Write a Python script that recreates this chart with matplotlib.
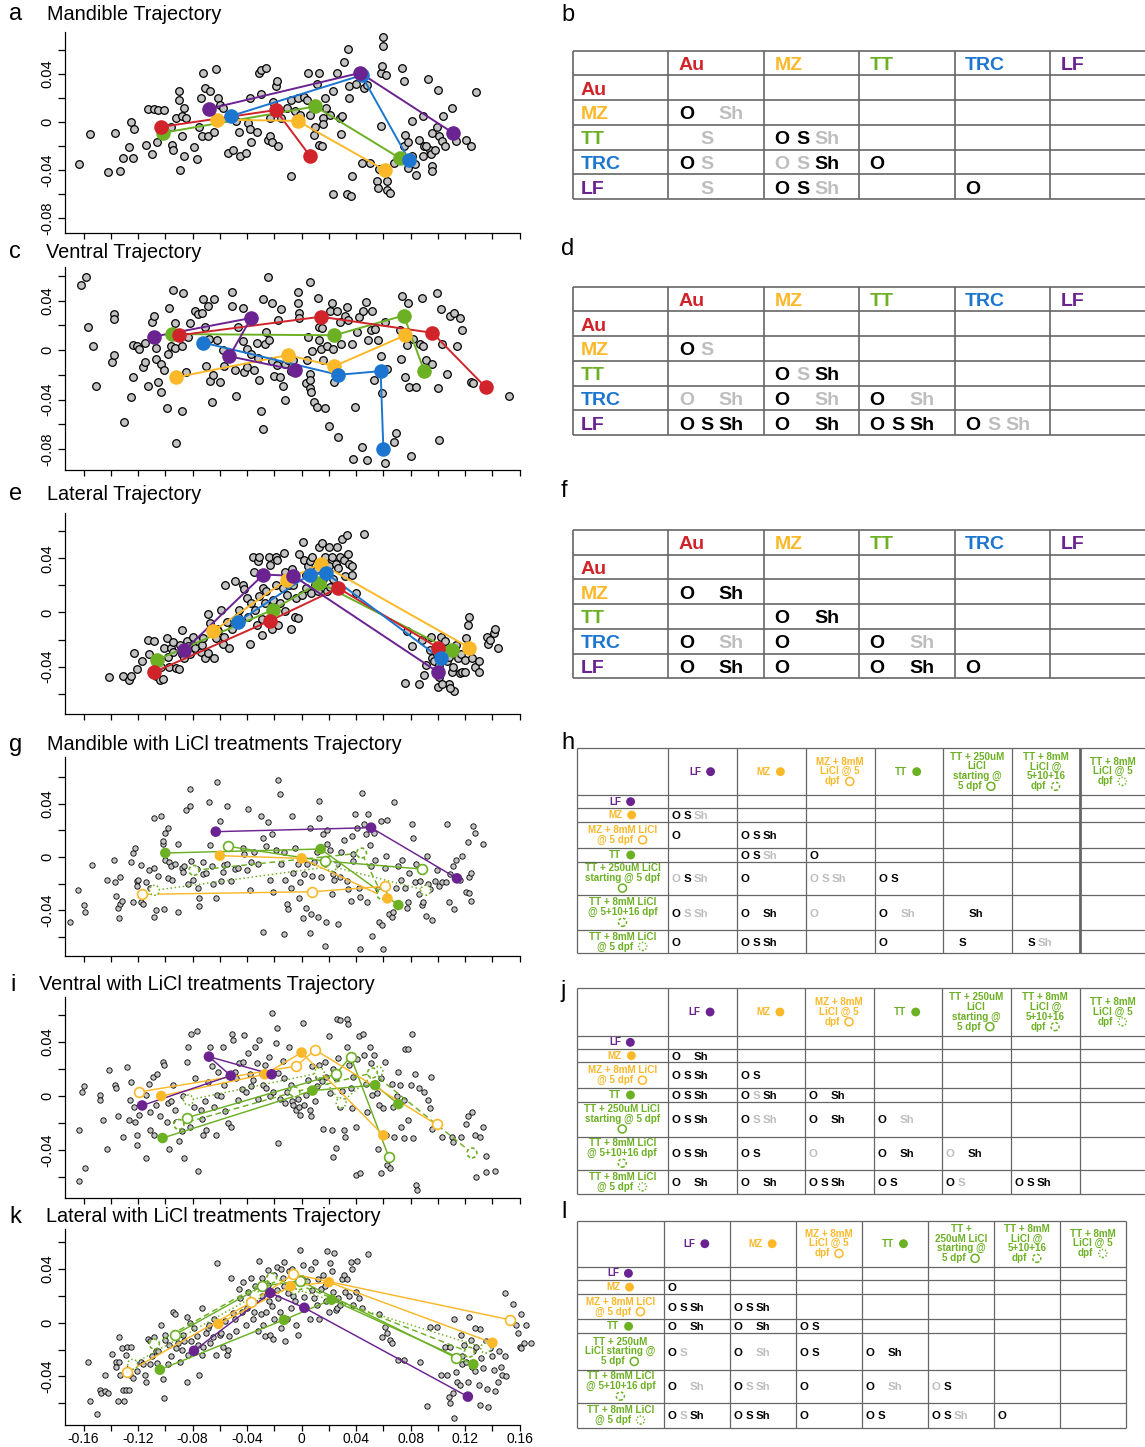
import numpy as np
import matplotlib
matplotlib.use("Agg")
import matplotlib.pyplot as plt
from matplotlib.offsetbox import TextArea, DrawingArea, HPacker, VPacker, AnnotationBbox
from matplotlib.patches import Circle

plt.rcParams['font.family'] = ['Liberation Sans', 'DejaVu Sans']

# ======================= DATA =======================
GROUPS5 = ["Au", "MZ", "TT", "TRC", "LF"]

# ---- a: Mandible trajectory ----
MAND_BG = [
(-0.163,-0.035),(-0.155,-0.010),(-0.142,-0.042),(-0.137,-0.009),(-0.133,-0.041),(-0.131,-0.030),(-0.127,-0.021),(-0.125,0.000),(-0.124,-0.030),(-0.123,-0.006),
(-0.114,-0.019),(-0.113,0.011),(-0.110,-0.027),(-0.108,0.011),(-0.106,-0.017),(-0.105,0.010),(-0.101,0.010),(-0.100,-0.010),(-0.096,-0.004),(-0.095,-0.019),
(-0.094,-0.023),(-0.092,0.003),(-0.090,0.026),(-0.090,0.018),(-0.088,-0.012),(-0.088,0.005),(-0.086,0.012),(-0.086,-0.028),(-0.085,0.003),(-0.089,-0.040),
(-0.079,-0.021),(-0.077,-0.031),(-0.075,-0.004),(-0.074,0.020),(-0.073,-0.012),(-0.072,0.041),(-0.071,0.028),(-0.069,-0.012),(-0.067,0.026),(-0.064,-0.008),
(-0.063,0.044),(-0.061,0.020),(-0.060,0.014),(-0.058,0.012),(-0.054,-0.026),(-0.050,-0.023),(-0.048,0.001),(-0.046,-0.008),(-0.045,-0.028),(-0.041,-0.026),
(-0.039,-0.001),(-0.038,-0.006),(-0.038,0.020),(-0.037,-0.017),(-0.033,-0.008),(-0.031,0.041),(-0.030,0.043),(-0.030,0.023),(-0.026,0.045),(-0.025,-0.015),
(-0.023,-0.012),(-0.023,0.003),(-0.022,-0.017),(-0.021,0.017),(-0.019,0.030),(-0.018,0.034),(-0.017,0.009),(-0.017,-0.020),(-0.015,0.003),(-0.011,0.012),
(-0.008,-0.045),(-0.008,0.018),(-0.005,0.009),(-0.003,0.020),(-0.001,0.006),(0.002,0.021),(0.004,0.018),(0.005,0.041),(0.006,0.006),(0.009,-0.011),
(0.010,-0.004),(0.011,0.032),(0.013,0.041),(0.013,-0.019),(0.015,-0.020),(0.016,0.003),(0.016,-0.002),(0.017,0.020),(0.018,0.012),(0.021,0.006),
(0.023,-0.060),(0.023,0.026),(0.026,0.041),(0.028,0.003),(0.029,-0.010),(0.030,0.005),(0.031,0.050),(0.033,-0.060),(0.034,0.061),(0.035,0.030),
(0.035,0.020),(0.036,-0.062),(0.037,-0.045),(0.040,0.032),(0.044,-0.034),(0.046,0.028),(0.048,0.031),(0.050,-0.034),(0.055,-0.049),(0.056,-0.055),
(0.057,-0.039),(0.058,0.041),(0.058,-0.003),(0.059,0.047),(0.060,0.063),(0.060,0.071),(0.062,0.039),(0.063,-0.057),(0.063,-0.049),(0.065,-0.059),
(0.068,-0.034),(0.074,0.045),(0.075,0.034),(0.075,-0.020),(0.076,-0.011),(0.078,-0.038),(0.081,0.001),(0.083,-0.035),(0.084,-0.044),(0.086,-0.015),
(0.089,0.005),(0.090,-0.020),(0.093,0.036),(0.094,-0.023),(0.095,-0.027),(0.096,-0.009),(0.098,-0.023),(0.096,-0.037),(0.096,-0.041),(0.099,-0.004),
(0.100,0.027),(0.101,-0.012),(0.103,-0.016),(0.104,0.005),(0.105,-0.020),(0.110,0.012),(0.113,-0.016),(0.121,-0.015),(0.124,-0.020),(0.128,0.025),
(0.078,-0.017),(0.081,-0.028),(0.091,-0.020),(0.089,-0.028),
]
MAND_TRAJ = {
    "Au":  [(-0.103, -0.004), (-0.019, 0.010), (0.006, -0.028)],
    "MZ":  [(-0.062, 0.002), (-0.003, 0.001), (0.061, -0.040)],
    "TT":  [(-0.102, -0.009), (0.010, 0.013), (0.072, -0.030)],
    "TRC": [(-0.052, 0.005), (0.044, 0.039), (0.079, -0.032)],
    "LF":  [(-0.068, 0.011), (0.043, 0.041), (0.111, -0.009)],
}

# ---- c: Ventral trajectory ----
VENT_BG = [
(-0.162,0.053),(-0.158,0.059),(-0.157,0.019),(-0.153,0.003),(-0.151,-0.029),(-0.139,-0.010),(-0.138,0.029),(-0.138,0.025),(-0.138,-0.004),(-0.130,-0.058),
(-0.125,-0.038),(-0.124,-0.022),(-0.124,0.004),(-0.121,0.003),(-0.119,0.001),(-0.116,-0.014),(-0.115,-0.010),(-0.115,0.006),(-0.113,-0.029),(-0.110,0.023),
(-0.108,0.028),(-0.107,0.002),(-0.107,-0.007),(-0.105,-0.026),(-0.103,-0.011),(-0.103,-0.034),(-0.101,-0.016),(-0.098,-0.003),(-0.099,-0.047),(-0.097,0.034),
(-0.096,0.003),(-0.094,0.049),(-0.093,0.022),(-0.093,0.002),(-0.092,-0.075),(-0.088,-0.049),(-0.088,0.003),(-0.087,0.046),(-0.085,-0.018),(-0.083,0.011),
(-0.082,0.022),(-0.078,0.032),(-0.076,0.029),(-0.073,0.030),(-0.072,0.041),(-0.071,0.019),(-0.070,-0.013),(-0.069,0.036),(-0.068,0.009),(-0.067,-0.025),
(-0.066,-0.042),(-0.065,-0.020),(-0.064,0.041),(-0.062,0.008),(-0.060,-0.026),(-0.058,0.000),(-0.057,-0.013),(-0.051,0.047),(-0.051,0.036),(-0.049,-0.016),
(-0.048,-0.037),(-0.047,0.019),(-0.043,0.007),(-0.043,0.034),(-0.042,-0.018),(-0.040,-0.014),(-0.040,0.001),(-0.037,-0.003),(-0.035,-0.016),(-0.033,0.006),
(-0.032,-0.006),(-0.031,-0.024),(-0.030,-0.049),(-0.028,0.041),(-0.028,-0.064),(-0.027,0.005),(-0.026,0.015),(-0.025,0.059),(-0.024,0.008),(-0.022,0.038),
(-0.022,-0.009),(-0.020,-0.021),(-0.018,-0.012),(-0.017,0.024),(-0.016,-0.022),(-0.015,0.033),(-0.014,-0.029),(-0.012,-0.040),(-0.012,-0.011),(-0.010,-0.008),
(-0.008,-0.017),(-0.006,-0.008),(-0.003,0.047),(-0.003,0.038),(-0.002,0.030),(-0.002,0.026),(0.003,-0.027),(0.004,-0.008),(0.005,0.011),(0.006,-0.019),
(0.006,0.055),(0.006,-0.024),(0.006,-0.031),(0.007,-0.034),(0.008,-0.001),(0.009,-0.042),(0.011,-0.046),(0.012,0.042),(0.013,0.019),(0.013,0.008),
(0.014,0.001),(0.015,0.018),(0.016,-0.008),(0.017,-0.047),(0.019,0.003),(0.020,-0.061),(0.021,0.032),(0.022,0.038),(0.023,0.001),(0.024,-0.026),
(0.026,0.032),(0.027,-0.070),(0.028,0.023),(0.029,0.005),(0.032,0.028),(0.033,0.035),(0.034,0.024),(0.037,0.005),(0.038,-0.088),(0.039,-0.046),
(0.041,0.015),(0.042,0.027),(0.044,-0.078),(0.045,0.032),(0.047,0.039),(0.048,-0.089),(0.049,0.008),(0.051,0.016),(0.052,0.032),(0.053,-0.024),
(0.054,0.017),(0.056,0.008),(0.058,-0.005),(0.059,-0.035),(0.061,-0.091),(0.061,0.023),(0.063,-0.015),(0.068,-0.074),(0.069,-0.067),(0.072,0.016),
(0.073,-0.007),(0.074,0.044),(0.076,-0.022),(0.077,0.004),(0.078,0.038),(0.079,-0.030),(0.080,-0.086),(0.082,0.009),(0.084,-0.030),(0.087,0.005),
(0.088,0.042),(0.089,0.003),(0.091,-0.008),(0.096,-0.011),(0.099,0.046),(0.100,-0.031),(0.101,-0.073),(0.102,0.033),(0.103,0.005),(0.107,-0.019),
(0.109,0.028),(0.112,0.030),(0.114,0.003),(0.116,0.026),(0.118,0.016),(0.124,-0.026),(0.126,-0.027),(0.152,-0.037),
]
VENT_TRAJ = {
    "Au":  [(-0.090, 0.012), (0.014, 0.027), (0.096, 0.014), (0.135, -0.030)],
    "MZ":  [(-0.092, -0.022), (-0.010, -0.004), (0.024, -0.013), (0.076, 0.012)],
    "TT":  [(-0.095, 0.013), (0.024, 0.012), (0.075, 0.028), (0.090, -0.017)],
    "TRC": [(-0.072, 0.006), (0.027, -0.020), (0.058, -0.017), (0.060, -0.080)],
    "LF":  [(-0.108, 0.011), (-0.037, 0.026), (-0.053, -0.005), (-0.005, -0.016)],
}

# ---- e: Lateral trajectory ----
LAT_BG = [
(-0.141,-0.048),(-0.131,-0.047),(-0.127,-0.050),(-0.125,-0.047),(-0.121,-0.042),(-0.117,-0.036),(-0.123,-0.030),(-0.113,-0.020),(-0.112,-0.031),(-0.108,-0.021),
(-0.107,-0.047),(-0.104,-0.050),(-0.102,-0.049),(-0.103,-0.040),(-0.101,-0.026),(-0.099,-0.019),(-0.098,-0.033),(-0.097,-0.040),(-0.096,-0.026),(-0.094,-0.022),
(-0.094,-0.029),(-0.092,-0.041),(-0.090,-0.042),(-0.089,-0.024),(-0.088,-0.013),(-0.088,-0.031),(-0.086,-0.034),(-0.084,-0.021),(-0.083,-0.025),(-0.082,-0.031),
(-0.080,-0.018),(-0.078,-0.026),(-0.076,-0.021),(-0.074,-0.029),(-0.073,-0.024),(-0.072,-0.019),(-0.071,-0.034),(-0.069,-0.030),(-0.069,-0.001),(-0.067,-0.008),
(-0.064,-0.034),(-0.063,-0.019),(-0.062,-0.012),(-0.061,-0.014),(-0.059,0.002),(-0.058,-0.023),(-0.057,-0.018),(-0.056,0.020),(-0.055,-0.007),(-0.053,-0.026),
(-0.051,-0.012),(-0.049,0.023),(-0.048,-0.007),(-0.047,-0.003),(-0.046,0.002),(-0.043,0.020),(-0.042,0.017),(-0.040,0.011),(-0.039,-0.003),(-0.038,-0.023),
(-0.037,0.007),(-0.036,0.041),(-0.035,0.030),(-0.034,0.002),(-0.033,-0.009),(-0.032,0.038),(-0.031,0.012),(-0.031,0.041),(-0.029,-0.005),(-0.029,-0.017),
(-0.028,0.018),(-0.027,0.007),(-0.026,0.016),(-0.024,0.041),(-0.023,0.035),(-0.022,-0.012),(-0.021,0.009),(-0.019,0.020),(-0.019,0.041),(-0.018,0.039),
(-0.017,-0.009),(-0.016,0.007),(-0.014,0.018),(-0.013,0.044),(-0.012,0.030),(-0.012,0.001),(-0.011,0.013),(-0.009,0.020),(-0.008,-0.012),(-0.007,0.032),
(-0.006,0.020),(-0.005,-0.003),(-0.004,0.011),(-0.003,-0.004),(-0.002,0.043),(0.000,0.013),(0.001,0.052),(0.002,0.039),(0.003,0.018),(0.003,0.028),
(0.005,0.034),(0.006,0.038),(0.007,0.014),(0.008,0.041),(0.010,0.020),(0.011,0.032),(0.012,0.016),(0.013,0.048),(0.015,0.051),(0.016,0.025),
(0.017,0.041),(0.018,0.036),(0.019,0.016),(0.020,0.048),(0.020,0.034),(0.021,0.019),(0.022,0.041),(0.023,0.025),(0.025,0.036),(0.026,0.048),
(0.027,0.033),(0.028,0.041),(0.030,0.054),(0.031,0.039),(0.032,0.027),(0.033,0.057),(0.034,0.043),(0.035,0.036),(0.037,0.034),(0.037,0.028),
(0.040,0.014),(0.046,0.058),(0.077,-0.014),(0.081,-0.025),(0.086,-0.053),(0.090,-0.046),(0.076,-0.052),(0.088,-0.020),(0.091,-0.039),(0.094,-0.028),
(0.095,-0.018),(0.096,-0.034),(0.097,-0.036),(0.099,-0.031),(0.101,-0.039),(0.102,-0.018),(0.103,-0.026),(0.105,-0.021),(0.100,-0.055),(0.101,-0.048),
(0.107,-0.036),(0.108,-0.033),(0.110,-0.044),(0.111,-0.040),(0.112,-0.029),(0.113,-0.024),(0.115,-0.034),(0.116,-0.045),(0.117,-0.031),(0.118,-0.044),
(0.120,-0.044),(0.120,-0.035),(0.121,-0.019),(0.122,-0.009),(0.123,-0.003),(0.125,-0.034),(0.127,-0.040),(0.130,-0.036),(0.130,-0.044),(0.136,-0.018),
(0.137,-0.023),(0.138,-0.020),(0.141,-0.015),(0.142,-0.012),(0.144,-0.026),(0.108,-0.053),(0.112,-0.058),(0.103,-0.053),(0.109,-0.056),
]
LAT_TRAJ = {
    "Au":  [(-0.108, -0.044), (-0.023, -0.006), (0.027, 0.018), (0.100, -0.026)],
    "MZ":  [(-0.065, -0.014), (-0.011, 0.024), (0.014, 0.036), (0.123, -0.026)],
    "TT":  [(-0.106, -0.035), (-0.021, 0.002), (0.013, 0.022), (0.110, -0.028)],
    "TRC": [(-0.047, -0.007), (0.006, 0.028), (0.018, 0.029), (0.102, -0.034)],
    "LF":  [(-0.086, -0.028), (-0.028, 0.028), (-0.006, 0.027), (0.100, -0.044)],
}

# ---- g: Mandible with LiCl ----
MANDL_BG = [
(-0.170,-0.049),(-0.164,-0.025),(-0.160,-0.036),(-0.159,-0.041),(-0.154,-0.006),(-0.143,-0.017),(-0.138,-0.002),(-0.137,-0.019),(-0.136,-0.029),(-0.135,-0.038),
(-0.134,-0.046),(-0.133,-0.015),(-0.133,-0.035),(-0.132,-0.033),(-0.125,-0.004),(-0.124,-0.034),(-0.124,0.003),(-0.122,0.007),(-0.121,-0.018),(-0.121,-0.022),
(-0.120,-0.017),(-0.118,-0.006),(-0.118,-0.034),(-0.116,-0.035),(-0.114,-0.019),(-0.112,-0.010),(-0.111,-0.023),(-0.108,-0.008),(-0.108,-0.045),(-0.108,0.029),
(-0.107,-0.040),(-0.105,-0.014),(-0.103,0.031),(-0.102,0.010),(-0.102,0.012),(-0.101,-0.039),(-0.100,-0.002),(-0.100,0.018),(-0.098,0.022),(-0.098,-0.016),
(-0.097,-0.004),(-0.096,-0.007),(-0.095,-0.017),(-0.093,-0.005),(-0.091,0.010),(-0.091,-0.041),(-0.088,-0.008),(-0.087,-0.011),(-0.086,-0.007),(-0.085,0.035),
(-0.083,-0.020),(-0.082,0.051),(-0.082,0.038),(-0.081,-0.003),(-0.080,-0.017),(-0.077,-0.009),(-0.076,-0.023),(-0.075,-0.037),(-0.075,-0.031),(-0.072,-0.004),
(-0.072,-0.013),(-0.070,-0.012),(-0.068,0.041),(-0.067,0.009),(-0.066,-0.007),(-0.065,-0.020),(-0.063,-0.031),(-0.062,0.056),(-0.060,0.027),(-0.059,-0.018),
(-0.058,-0.011),(-0.057,-0.006),(-0.055,0.038),(-0.055,-0.005),(-0.052,-0.018),(-0.049,-0.009),(-0.047,-0.008),(-0.043,0.007),(-0.042,0.002),(-0.040,-0.010),
(-0.039,0.036),(-0.038,-0.025),(-0.037,-0.004),(-0.035,0.004),(-0.032,-0.005),(-0.030,0.031),(-0.028,0.014),(-0.028,-0.056),(-0.026,0.008),(-0.025,0.026),
(-0.023,-0.017),(-0.022,0.017),(-0.021,-0.026),(-0.019,0.005),(-0.017,0.058),(-0.016,0.047),(-0.015,-0.005),(-0.013,0.004),(-0.013,-0.058),(-0.012,-0.017),
(-0.011,-0.035),(-0.010,-0.039),(-0.008,-0.023),(-0.007,0.031),(-0.006,-0.012),(-0.005,0.007),(-0.003,-0.005),(-0.002,-0.031),(-0.001,-0.019),(0.001,-0.046),
(0.002,-0.013),(0.003,-0.038),(0.004,-0.005),(0.006,0.022),(0.006,-0.057),(0.007,-0.043),(0.008,-0.014),(0.009,-0.004),(0.011,0.004),(0.012,-0.045),
(0.013,0.029),(0.013,0.042),(0.014,-0.015),(0.016,0.017),(0.018,-0.049),(0.019,0.020),(0.019,0.010),(0.021,0.005),(0.022,-0.028),(0.023,-0.013),
(0.024,-0.017),(0.026,-0.005),(0.027,-0.050),(0.028,-0.015),(0.029,0.004),(0.031,0.013),(0.033,-0.018),(0.034,-0.024),(0.036,-0.033),(0.037,0.016),
(0.038,-0.003),(0.038,0.002),(0.039,0.032),(0.041,0.022),(0.042,-0.023),(0.043,-0.030),(0.044,0.048),(0.046,0.025),(0.047,0.017),(0.048,-0.034),
(0.049,0.032),(0.050,0.009),(0.051,-0.007),(0.052,-0.059),(0.053,0.018),(0.054,-0.002),(0.056,-0.024),(0.057,-0.049),(0.058,0.027),(0.059,-0.051),
(0.060,-0.069),(0.061,-0.008),(0.062,0.001),(0.063,0.028),(0.064,-0.043),(0.066,-0.045),(0.067,-0.041),(0.068,0.041),(0.069,-0.023),(0.071,-0.007),
(0.073,-0.017),(0.074,-0.002),(0.076,-0.023),(0.077,-0.038),(0.078,-0.034),(0.079,-0.012),(0.081,0.025),(0.082,0.014),(0.083,-0.019),(0.084,-0.005),
(0.086,-0.028),(0.087,-0.018),(0.088,-0.036),(0.089,-0.034),(0.091,-0.044),(0.092,0.001),(0.093,-0.020),(0.094,-0.024),(0.096,-0.047),(0.098,-0.018),
(0.099,-0.010),(0.101,-0.022),(0.103,-0.019),(0.106,-0.019),(0.107,0.025),(0.108,-0.034),(0.109,-0.013),(0.111,-0.007),(0.112,-0.039),(0.113,-0.002),
(0.116,-0.017),(0.118,0.001),(0.121,-0.026),(0.123,-0.015),(0.124,-0.012),(0.124,-0.033),(0.126,0.023),(0.127,0.018),(0.122,0.011),(0.133,0.010),
(0.123,-0.027),(0.043,-0.069),(0.017,-0.067),
]
MANDL_TRAJ = {
    "LF":    [(-0.063, 0.019), (0.051, 0.022), (0.114, -0.016)],
    "MZ":    [(-0.060, 0.001), (0.000, -0.001), (0.063, -0.031)],
    "MZL":   [(-0.117, -0.028), (0.008, -0.026), (0.061, -0.022)],
    "TT":    [(-0.100, 0.003), (0.014, 0.006), (0.071, -0.036)],
    "TT250": [(-0.054, 0.008), (0.017, -0.003), (0.088, -0.009)],
    "TT8a":  [(-0.079, -0.010), (0.044, 0.003), (0.059, -0.028)],
    "TT8b":  [(-0.108, -0.025), (0.022, -0.007), (0.091, -0.025)],
}

# ---- i: Ventral with LiCl ----
VENTL_BG = [
(-0.163,-0.025),(-0.163,-0.063),(-0.161,0.003),(-0.160,0.007),(-0.159,-0.053),(-0.148,0.001),(-0.148,-0.003),(-0.146,-0.018),(-0.143,-0.039),(-0.141,0.019),
(-0.137,0.008),(-0.136,0.006),(-0.135,-0.015),(-0.131,-0.030),(-0.128,0.021),(-0.127,-0.018),(-0.126,-0.003),(-0.125,0.010),(-0.123,-0.008),(-0.122,-0.019),
(-0.121,-0.029),(-0.121,-0.036),(-0.119,-0.014),(-0.114,-0.046),(-0.114,0.001),(-0.112,0.009),(-0.111,-0.012),(-0.111,-0.025),(-0.109,0.014),(-0.108,-0.029),
(-0.107,-0.007),(-0.106,0.016),(-0.104,-0.015),(-0.102,0.025),(-0.101,0.023),(-0.099,-0.019),(-0.098,-0.005),(-0.097,-0.039),(-0.096,-0.004),(-0.094,0.008),
(-0.093,-0.010),(-0.092,-0.019),(-0.090,-0.033),(-0.088,-0.026),(-0.087,0.000),(-0.086,-0.046),(-0.084,0.025),(-0.083,0.036),(-0.082,-0.023),(-0.081,0.046),
(-0.079,-0.008),(-0.078,0.013),(-0.077,0.048),(-0.076,-0.055),(-0.074,-0.010),(-0.073,-0.017),(-0.072,-0.029),(-0.071,-0.004),(-0.070,-0.025),(-0.069,0.010),
(-0.067,0.036),(-0.066,0.022),(-0.064,-0.008),(-0.063,-0.029),(-0.062,0.001),(-0.061,0.018),(-0.059,0.000),(-0.058,0.036),(-0.057,0.008),(-0.056,-0.011),
(-0.054,-0.020),(-0.052,-0.023),(-0.051,0.046),(-0.050,0.041),(-0.049,0.018),(-0.048,0.013),(-0.047,-0.003),(-0.046,0.024),(-0.044,0.005),(-0.043,0.025),
(-0.042,0.045),(-0.041,0.003),(-0.039,0.032),(-0.038,0.016),(-0.037,0.007),(-0.036,0.012),(-0.034,0.036),(-0.033,0.024),(-0.032,-0.002),(-0.031,0.041),
(-0.029,0.016),(-0.028,0.008),(-0.027,0.023),(-0.026,0.006),(-0.024,0.029),(-0.023,0.000),(-0.022,0.061),(-0.021,0.003),(-0.019,0.039),(-0.018,0.050),
(-0.017,0.017),(-0.017,-0.035),(-0.016,-0.002),(-0.014,0.026),(-0.013,0.013),(-0.012,-0.005),(-0.011,0.003),(-0.009,0.036),(-0.008,0.008),(-0.007,-0.004),
(-0.006,-0.007),(-0.004,-0.010),(-0.003,-0.002),(-0.002,-0.008),(-0.001,-0.014),(0.001,0.054),(0.002,-0.007),(0.003,0.001),(0.005,0.012),(0.006,-0.010),
(0.007,-0.015),(0.008,0.022),(0.010,-0.004),(0.011,0.007),(0.012,0.014),(0.013,0.023),(0.015,0.011),(0.016,-0.024),(0.017,0.025),(0.018,0.014),
(0.020,0.044),(0.021,0.002),(0.022,-0.025),(0.023,-0.045),(0.023,0.020),(0.025,-0.038),(0.025,0.013),(0.026,0.057),(0.027,0.028),(0.028,-0.008),
(0.028,0.056),(0.030,0.004),(0.031,-0.025),(0.032,-0.030),(0.033,0.036),(0.033,0.057),(0.034,0.053),(0.035,0.023),(0.036,0.006),(0.037,-0.009),
(0.038,0.014),(0.040,-0.023),(0.040,-0.058),(0.041,0.027),(0.042,0.044),(0.043,-0.057),(0.045,0.046),(0.046,0.030),(0.047,0.009),(0.048,-0.012),
(0.050,0.036),(0.051,0.024),(0.052,0.001),(0.053,0.030),(0.055,0.002),(0.056,-0.039),(0.057,-0.007),(0.058,-0.057),(0.058,0.013),(0.060,-0.009),
(0.061,0.025),(0.062,-0.029),(0.063,-0.051),(0.065,-0.053),(0.066,0.009),(0.067,-0.008),(0.068,-0.030),(0.070,0.000),(0.071,0.018),(0.072,0.008),
(0.073,-0.023),(0.075,-0.003),(0.075,-0.031),(0.076,0.035),(0.078,-0.018),(0.078,0.035),(0.080,0.008),(0.081,0.046),(0.082,-0.031),(0.083,0.016),
(0.084,-0.066),(0.085,-0.069),(0.086,0.006),(0.090,0.003),(0.093,-0.003),(0.094,-0.009),(0.095,0.014),(0.096,-0.024),(0.103,-0.030),(0.110,-0.030),
(0.111,-0.034),(0.117,-0.030),(0.121,-0.021),(0.122,-0.015),(0.125,-0.012),(0.127,-0.029),(0.128,-0.060),(0.131,-0.030),(0.133,-0.023),(0.135,-0.044),
(0.135,-0.056),(0.142,-0.055),
]
VENTL_TRAJ = {
    "LF":    [(-0.117, -0.007), (-0.052, 0.015), (-0.068, 0.029), (-0.022, 0.016)],
    "MZ":    [(-0.103, 0.000), (-0.027, 0.016), (0.000, 0.032), (0.060, -0.029)],
    "MZL":   [(-0.119, 0.003), (-0.004, 0.022), (0.010, 0.034), (0.099, -0.021)],
    "TT":    [(-0.102, -0.031), (0.008, 0.004), (0.054, 0.008), (0.071, -0.006)],
    "TT250": [(-0.084, -0.016), (0.025, 0.016), (0.036, 0.029), (0.064, -0.045)],
    "TT8a":  [(-0.090, -0.021), (-0.005, 0.003), (0.052, 0.017), (0.125, -0.042)],
    "TT8b":  [(-0.083, -0.003), (0.013, 0.017), (0.029, -0.005), (0.056, 0.018)],
}

# ---- k: Lateral with LiCl ----
LATL_BG = [
(-0.157,-0.029),(-0.155,-0.058),(-0.150,-0.068),(-0.148,-0.050),(-0.147,-0.052),(-0.144,-0.051),(-0.142,-0.052),(-0.144,-0.039),(-0.139,-0.023),(-0.136,-0.029),
(-0.136,-0.033),(-0.135,-0.058),(-0.134,-0.011),(-0.134,-0.029),(-0.133,-0.039),(-0.132,-0.019),(-0.131,-0.050),(-0.130,-0.058),(-0.129,-0.050),(-0.129,-0.024),
(-0.128,-0.018),(-0.127,-0.034),(-0.127,-0.050),(-0.126,-0.039),(-0.125,-0.018),(-0.124,-0.041),(-0.122,-0.031),(-0.121,-0.036),(-0.118,-0.029),(-0.116,-0.031),
(-0.115,-0.039),(-0.114,-0.044),(-0.113,-0.012),(-0.111,-0.031),(-0.111,-0.014),(-0.110,-0.025),(-0.108,-0.011),(-0.107,-0.021),(-0.106,-0.030),(-0.105,-0.021),
(-0.103,-0.002),(-0.102,-0.042),(-0.101,-0.056),(-0.100,-0.013),(-0.100,-0.009),(-0.098,-0.031),(-0.097,-0.017),(-0.096,-0.025),(-0.094,0.008),(-0.093,0.006),
(-0.092,-0.019),(-0.091,-0.015),(-0.089,-0.029),(-0.088,-0.020),(-0.087,-0.009),(-0.086,-0.014),(-0.084,-0.044),(-0.084,0.004),(-0.083,-0.024),(-0.082,0.000),
(-0.081,-0.014),(-0.079,-0.004),(-0.077,-0.010),(-0.076,-0.017),(-0.075,-0.039),(-0.073,0.011),(-0.073,-0.024),(-0.072,-0.018),(-0.070,-0.008),(-0.069,-0.004),
(-0.068,-0.002),(-0.067,-0.015),(-0.065,-0.011),(-0.064,0.003),(-0.063,-0.024),(-0.062,0.044),(-0.060,-0.009),(-0.059,-0.008),(-0.058,-0.018),(-0.056,0.001),
(-0.055,-0.024),(-0.054,-0.020),(-0.053,-0.010),(-0.052,0.033),(-0.050,0.007),(-0.049,0.003),(-0.048,-0.006),(-0.046,0.025),(-0.045,0.018),(-0.044,0.008),
(-0.043,0.030),(-0.041,-0.002),(-0.040,0.011),(-0.039,0.023),(-0.037,0.033),(-0.036,0.003),(-0.035,0.017),(-0.035,0.008),(-0.034,0.027),(-0.032,-0.006),
(-0.031,0.046),(-0.030,0.006),(-0.029,0.033),(-0.029,0.020),(-0.028,-0.002),(-0.027,-0.010),(-0.026,0.008),(-0.025,0.028),(-0.025,0.039),(-0.024,0.016),
(-0.023,-0.009),(-0.022,0.012),(-0.021,-0.012),(-0.020,0.035),(-0.020,0.003),(-0.018,0.024),(-0.018,0.041),(-0.017,0.018),(-0.016,0.008),(-0.015,0.040),
(-0.015,-0.004),(-0.014,0.033),(-0.013,0.027),(-0.013,0.045),(-0.012,-0.014),(-0.011,0.003),(-0.010,0.022),(-0.009,0.038),(-0.008,0.011),(-0.007,0.040),
(-0.006,0.020),(-0.005,0.016),(-0.004,-0.002),(-0.003,-0.009),(-0.002,0.027),(-0.001,0.054),(0.000,0.033),(0.001,0.043),(0.002,0.019),(0.003,0.011),
(0.004,0.031),(0.006,0.003),(0.007,0.040),(0.008,0.024),(0.009,0.018),(0.010,0.045),(0.011,0.013),(0.012,0.032),(0.013,0.003),(0.014,0.025),
(0.016,0.035),(0.017,0.027),(0.018,0.016),(0.019,0.053),(0.020,0.008),(0.021,0.044),(0.022,0.038),(0.023,0.023),(0.024,0.052),(0.025,0.009),
(0.026,0.011),(0.027,0.018),(0.028,0.013),(0.030,0.032),(0.031,0.035),(0.032,0.023),(0.033,0.032),(0.035,0.020),(0.036,0.045),(0.037,0.040),
(0.038,0.013),(0.040,0.023),(0.041,0.046),(0.042,0.018),(0.044,0.011),(0.049,0.051),(0.057,0.006),(0.059,-0.011),(0.061,-0.003),(0.063,-0.008),
(0.065,-0.013),(0.066,-0.015),(0.071,-0.028),(0.075,-0.028),(0.087,-0.029),(0.092,-0.062),(0.094,-0.003),(0.099,-0.003),(0.105,-0.018),(0.107,-0.039),
(0.108,-0.055),(0.109,-0.018),(0.111,-0.052),(0.112,0.003),(0.113,-0.037),(0.114,-0.044),(0.116,-0.046),(0.117,-0.009),(0.118,-0.025),(0.118,-0.031),
(0.119,-0.017),(0.121,-0.029),(0.122,-0.044),(0.123,0.004),(0.125,-0.033),(0.126,-0.021),(0.127,-0.036),(0.128,-0.018),(0.130,-0.046),(0.131,-0.005),
(0.132,-0.026),(0.133,-0.034),(0.135,-0.014),(0.136,-0.049),(0.137,-0.063),(0.138,-0.019),(0.140,-0.025),(0.141,-0.035),(0.142,-0.051),(0.144,-0.044),
(0.145,-0.021),(0.146,-0.033),(0.147,-0.039),(0.149,-0.025),(0.150,-0.040),(0.149,0.022),(0.155,0.014),(0.157,-0.002),(0.159,-0.008),(0.160,-0.018),
(0.161,0.006),(0.163,-0.015),(0.165,-0.002),(0.168,-0.015),(0.161,-0.019),(0.112,-0.071),(0.131,-0.061),(0.102,-0.039),(0.109,-0.060),(0.127,-0.004),
(0.124,-0.013),
]
LATL_TRAJ = {
    "LF":    [(-0.079, -0.021), (-0.023, 0.022), (0.002, 0.011), (0.122, -0.055)],
    "MZ":    [(-0.061, -0.001), (-0.008, 0.027), (0.020, 0.030), (0.140, -0.015)],
    "MZL":   [(-0.128, -0.037), (-0.037, 0.015), (-0.006, 0.036), (0.153, 0.002)],
    "TT":    [(-0.104, -0.035), (-0.013, 0.002), (0.022, 0.017), (0.126, -0.031)],
    "TT250": [(-0.093, -0.009), (-0.029, 0.027), (-0.001, 0.031), (0.113, -0.026)],
    "TT8a":  [(-0.108, -0.016), (-0.022, 0.033), (-0.002, 0.028), (0.123, -0.022)],
    "TT8b":  [(-0.124, -0.031), (-0.034, 0.020), (-0.005, 0.025), (0.135, -0.019)],
}

# ---- tables: 3-slot codes for "O", "S", "Sh": k = black, g = grey, - = absent ----
TABLE_B = [[], ["k-g"], ["-g-", "kkg"], ["kg-", "ggk", "k--"], ["-g-", "kkg", "", "k--"]]
TABLE_D = [[], ["kg-"], ["", "kgk"], ["g-g", "k-g", "k-g"], ["kkk", "k-k", "kkk", "kgg"]]
TABLE_F = [[], ["k-k"], ["", "k-k"], ["k-g", "k--", "k-g"], ["k-k", "k--", "k-k", "k--"]]

TABLE_H = [[], ["kkg"], ["k--", "kkk"], ["", "kkg", "k--"], ["gkg", "k--", "ggg", "kk-"],
           ["kgg", "k-k", "g--", "k-g", "--k"], ["k--", "kkk", "", "k--", "-k-", "-kg"]]
TABLE_J = [[], ["k-k"], ["kkk", "kk-"], ["kkk", "kgk", "k-k"], ["kkk", "kgg", "k-k", "k-g"],
           ["kkk", "kk-", "g--", "k-k", "g-k"], ["k-k", "k-k", "kkk", "kk-", "kg-", "kkk"]]
TABLE_L = [[], ["k--"], ["kkk", "kkk"], ["k-k", "k-k", "kk-"], ["kg-", "k-g", "kk-", "k-k"],
           ["k-g", "kgg", "k--", "k-g", "gk-"], ["kgk", "kkk", "k--", "kk-", "kkg", "k--"]]

LICL_COL_HEADERS = [
    (["LF"], "LF", "filled"),
    (["MZ"], "MZ", "filled"),
    (["MZ + 8mM", "LiCl @ 5", "dpf"], "MZ", "open"),
    (["TT"], "TT", "filled"),
    (["TT + 250uM", "LiCl", "starting @", "5 dpf"], "TT", "open"),
    (["TT + 8mM", "LiCl @", "5+10+16", "dpf"], "TT", "dashed"),
    (["TT + 8mM", "LiCl @ 5", "dpf"], "TT", "dotted"),
]
LICL_ROW_HEADERS = [
    (["LF"], "LF", "filled"),
    (["MZ"], "MZ", "filled"),
    (["MZ + 8mM LiCl", "@ 5 dpf"], "MZ", "open"),
    (["TT"], "TT", "filled"),
    (["TT + 250uM LiCl", "starting @ 5 dpf", ""], "TT", "open"),
    (["TT + 8mM LiCl", "@ 5+10+16 dpf", ""], "TT", "dashed"),
    (["TT + 8mM LiCl", "@ 5 dpf"], "TT", "dotted"),
]
L_COL_HEADERS = list(LICL_COL_HEADERS)
L_COL_HEADERS[4] = (["TT +", "250uM LiCl", "starting @", "5 dpf"], "TT", "open")
L_ROW_HEADERS = list(LICL_ROW_HEADERS)
L_ROW_HEADERS[4] = (["TT + 250uM", "LiCl starting @", "5 dpf"], "TT", "open")

# ======================= STYLE =======================
COLORS = {"Au": "#d1232a", "MZ": "#fbb829", "TT": "#6cb024", "TRC": "#1c76d0", "LF": "#6a2390"}
GREYTXT = "#bdbdbd"
LINEC = "#666666"
LICL_STYLE = {
    "LF": ("LF", "filled", "-"),
    "MZ": ("MZ", "filled", "-"),
    "MZL": ("MZ", "open", "-"),
    "TT": ("TT", "filled", "-"),
    "TT250": ("TT", "open", "-"),
    "TT8a": ("TT", "dashed", (0, (4, 2.5))),
    "TT8b": ("TT", "dotted", (0, (1, 1.8))),
}

W, H = 1145, 1447
fig = plt.figure(figsize=(W / 100, H / 100), dpi=100)
fig.patch.set_facecolor("white")

tab = fig.add_axes([0, 0, 1, 1])
tab.set_xlim(0, W)
tab.set_ylim(H, 0)
tab.axis("off")
tab.patch.set_visible(False)

XLIM = (-0.1736, 0.172)
XTICKS = np.round(np.arange(-0.16, 0.1601, 0.02), 2)


def fmt(v):
    if abs(v) < 1e-9:
        return "0"
    return f"{v:.2f}"


def is_major(v):
    q = v / 0.04
    return abs(q - round(q)) < 1e-6


def scatter_axes(top, bottom, ylim, xlabels=False):
    ax = fig.add_axes([65 / W, 1 - bottom / H, (536 - 65) / W, (bottom - top) / H])
    ax.set_xlim(*XLIM)
    ax.set_ylim(*ylim)
    ax.patch.set_alpha(0)
    for s in ("top", "right"):
        ax.spines[s].set_visible(False)
    for s in ("left", "bottom"):
        ax.spines[s].set_linewidth(0.9)
    ax.spines["bottom"].set_bounds(XLIM[0], 0.16)
    ax.set_xticks(XTICKS)
    ax.set_xticklabels([fmt(v) if (xlabels and is_major(v)) else "" for v in XTICKS], fontsize=10)
    yt = [v for v in np.round(np.arange(-0.08, 0.0601, 0.02), 2) if ylim[0] <= v <= ylim[1]]
    ax.set_yticks(yt)
    ax.set_yticklabels([fmt(v) if is_major(v) else "" for v in yt], rotation=90, va="center", fontsize=10.5)
    ax.tick_params(axis="y", length=5, width=0.9, pad=3)
    ax.tick_params(axis="x", length=4.5, width=0.9, pad=1.0)
    return ax


def draw_bg(ax, pts, size, lw):
    ax.scatter([p[0] for p in pts], [p[1] for p in pts], s=size, facecolor="#c3c3c3",
               edgecolor="black", linewidths=lw, zorder=2)


def draw_traj5(ax, traj):
    order = ["TT", "Au", "MZ", "TRC", "LF"]
    for g in order:
        pts = traj[g]
        ax.plot([p[0] for p in pts], [p[1] for p in pts], color=COLORS[g], lw=1.4, zorder=3)
    for g in order:
        pts = traj[g]
        ax.plot([p[0] for p in pts], [p[1] for p in pts], ls="none", marker="o", ms=10.5,
                mfc=COLORS[g], mec=COLORS[g], mew=0, zorder=4)


def draw_licl(ax, traj):
    for key in ["TT8b", "TT8a", "TT250", "TT", "MZL", "MZ", "LF"]:
        cname, kind, ls = LICL_STYLE[key]
        col = COLORS[cname]
        pts = traj[key]
        xs = [p[0] for p in pts]
        ys = [p[1] for p in pts]
        ax.plot(xs, ys, color=col, lw=1.05, ls=ls, zorder=3)
        if kind == "filled":
            ax.scatter(xs, ys, s=58, color=col, edgecolors="none", zorder=4)
        else:
            mls = {"open": "solid", "dashed": (0, (2.2, 1.6)), "dotted": (0, (0.9, 1.4))}[kind]
            ax.scatter(xs, ys, s=50, facecolors="white", edgecolors=col, linewidths=1.2,
                       linestyles=[mls], zorder=4)


def panel_title(letter, lx, tx, y, text):
    fig.text(lx / W, 1 - y / H, letter, fontsize=17, va="center", ha="left")
    if text:
        fig.text(tx / W, 1 - y / H, text, fontsize=14.3, va="center", ha="left")


# ---------------- scatter panels ----------------
ax = scatter_axes(31.7, 233.3, (-0.0927, 0.0753))
draw_bg(ax, MAND_BG, 30, 0.9)
draw_traj5(ax, MAND_TRAJ)
panel_title("a", 9, 47, 14, "Mandible Trajectory")

ax = scatter_axes(267.3, 470.0, (-0.097, 0.067))
draw_bg(ax, VENT_BG, 30, 0.9)
draw_traj5(ax, VENT_TRAJ)
panel_title("c", 9, 46, 252, "Ventral Trajectory")

ax = scatter_axes(513.3, 714.3, (-0.0752, 0.0732))
draw_bg(ax, LAT_BG, 30, 0.9)
draw_traj5(ax, LAT_TRAJ)
panel_title("e", 9, 47, 494, "Lateral Trajectory")

ax = scatter_axes(756.7, 956.0, (-0.0742, 0.0752))
draw_bg(ax, MANDL_BG, 15, 0.6)
draw_licl(ax, MANDL_TRAJ)
panel_title("g", 9, 47, 745, "Mandible with LiCl treatments Trajectory")

ax = scatter_axes(996.7, 1197.7, (-0.075, 0.0732))
draw_bg(ax, VENTL_BG, 15, 0.6)
draw_licl(ax, VENTL_TRAJ)
panel_title("i", 10, 39, 985, "Ventral with LiCl treatments Trajectory")

ax = scatter_axes(1229.0, 1424.5, (-0.0757, 0.0695), xlabels=True)
draw_bg(ax, LATL_BG, 15, 0.6)
draw_licl(ax, LATL_TRAJ)
panel_title("k", 9, 46, 1217, "Lateral with LiCl treatments Trajectory")


# ---------------- tables ----------------
def txt(x, yc, s, color, fs, ha="center", bold=True):
    tab.text(x, yc + 0.497 * fs, s, color=color, fontsize=fs,
             fontweight="bold" if bold else "normal", ha=ha, va="baseline")


def slots(xleft, yc, code, offs, fs):
    for ch, tok, off in zip(code, ["O", "S", "Sh"], offs):
        if ch == "-":
            continue
        txt(xleft + off, yc, tok, "black" if ch == "k" else GREYTXT, fs)


def hline(x0, x1, y, lw=1.2):
    tab.plot([x0, x1], [y, y], color=LINEC, lw=lw, solid_capstyle="butt")


def vline(x, y0, y1, lw=1.2):
    tab.plot([x, x], [y0, y1], color=LINEC, lw=lw, solid_capstyle="butt")


def big_table(top, cells):
    colw, rowh, left = 95.4, 24.7, 573
    xs = [left + i * colw for i in range(7)]
    ys = [top + j * rowh for j in range(7)]
    for x in xs[:-1]:
        vline(x, ys[0], ys[-1])
    for y in ys:
        hline(xs[0], W, y)
    for i, g in enumerate(GROUPS5):
        txt(xs[i + 1] + 10.5, ys[0] + rowh / 2, g, COLORS[g], 14, ha="left")
        txt(xs[0] + 8, ys[i + 1] + rowh / 2, g, COLORS[g], 14, ha="left")
    for r, row in enumerate(cells):
        for c, code in enumerate(row):
            if code:
                slots(xs[c + 1], ys[r + 1] + rowh / 2, code, (18, 39, 63), 14)


def sym_area(color, kind, size=7.6):
    da = DrawingArea(size, size, 0, 0)
    r = size / 2 - 0.6
    if kind == "filled":
        c = Circle((size / 2, size / 2), r, fc=color, ec="none")
    else:
        ls = {"open": "-", "dashed": (0, (1.8, 1.3)), "dotted": (0, (0.8, 1.2))}[kind]
        c = Circle((size / 2, size / 2), r - 0.3, fc="none", ec=color, lw=1.1, ls=ls)
    da.add_artist(c)
    return da


def label_box(lines, color, kind, fs=7.1):
    rows = []
    for i, line in enumerate(lines):
        items = []
        if line:
            items.append(TextArea(line, textprops=dict(color=color, fontsize=fs, fontweight="bold")))
        if i == len(lines) - 1:
            items.append(sym_area(color, kind))
        rows.append(HPacker(children=items, align="center", pad=0, sep=3))
    return VPacker(children=rows, align="center", pad=0, sep=-0.2)


def place_box(box, x, y):
    ab = AnnotationBbox(box, (x, y), xycoords="data", frameon=False, box_alignment=(0.5, 0.5),
                        pad=0, annotation_clip=False)
    tab.add_artist(ab)


def small_table(cols, rows, col_headers, row_headers, cells, right_border=False, thick=None):
    for i, x in enumerate(cols):
        if i == len(cols) - 1 and not right_border:
            continue
        vline(x, rows[0], rows[-1], lw=2.0 if thick == i else 0.9)
    for y in rows:
        hline(cols[0], cols[-1], y, lw=0.9)
    for i, (lines, cname, kind) in enumerate(col_headers):
        place_box(label_box(lines, COLORS[cname], kind), (cols[i + 1] + cols[i + 2]) / 2,
                  (rows[0] + rows[1]) / 2)
    for j, (lines, cname, kind) in enumerate(row_headers):
        place_box(label_box(lines, COLORS[cname], kind), (cols[0] + cols[1]) / 2,
                  (rows[j + 1] + rows[j + 2]) / 2)
    for r, row in enumerate(cells):
        for c, code in enumerate(row):
            if code:
                slots(cols[c + 1], (rows[r + 1] + rows[r + 2]) / 2, code, (8, 19.5, 33), 8.2)


big_table(50.7, TABLE_B)
big_table(286.7, TABLE_D)
big_table(530.0, TABLE_F)
for letter, y in [("b", 15), ("d", 249), ("f", 491), ("h", 743), ("j", 991), ("l", 1212)]:
    fig.text(561 / W, 1 - y / H, letter, fontsize=17, va="center", ha="left")

small_table([577, 668, 737, 805.5, 874.5, 942.5, 1011.5, 1080, 1145],
            [748.3, 795, 808.3, 821.7, 848.3, 861.7, 895, 930, 953.3],
            LICL_COL_HEADERS, LICL_ROW_HEADERS, TABLE_H, thick=7)
small_table([577, 667.5, 736.5, 805, 873.5, 941.5, 1010.5, 1080, 1145],
            [988.3, 1035.7, 1049, 1062.3, 1088.3, 1101.7, 1136.7, 1170, 1194],
            LICL_COL_HEADERS, LICL_ROW_HEADERS, TABLE_J)
small_table([577, 663.7, 729.8, 796.2, 862.2, 928.3, 994, 1060, 1126],
            [1220.7, 1266.7, 1280, 1294.3, 1319.3, 1333.3, 1370, 1402.7, 1427.7],
            L_COL_HEADERS, L_ROW_HEADERS, TABLE_L, right_border=True)

fig.savefig("out.png", dpi=100, facecolor="white")
